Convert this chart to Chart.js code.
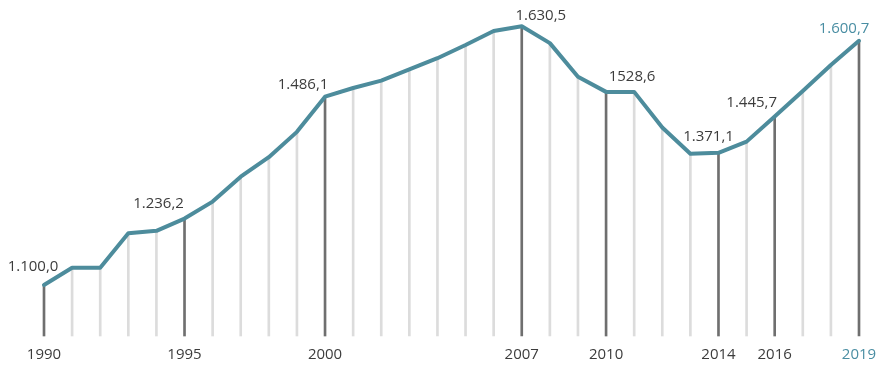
<!DOCTYPE html>
<html>
<head>
<meta charset="utf-8">
<script src="https://cdn.jsdelivr.net/npm/chart.js@4"></script>
<style>
html,body{margin:0;padding:0;background:#fff;}
#wrap{width:876px;height:367px;position:relative;}
</style>
</head>
<body>
<div id="wrap"><canvas id="c" width="876" height="367"></canvas></div>
<script>
// Data
const years = [1990,1991,1992,1993,1994,1995,1996,1997,1998,1999,2000,2001,2002,2003,2004,2005,2006,2007,2008,2009,2010,2011,2012,2013,2014,2015,2016,2017,2018,2019];
const values = [1100.0,1135.5,1135.5,1206,1211,1236.2,1271,1322,1362,1414,1486.1,1504,1519,1542,1565,1592,1621,1630.5,1596,1527,1496,1496,1423,1369,1371.1,1394,1445.7,1498,1551,1600.7];
const tickYears = [1990,1995,2000,2007,2010,2014,2016,2019];
const labelYears = [1990,1995,2000,2007,2010,2014,2016,2019];
const labelTexts = ["1.100,0","1.236,2","1.486,1","1.630,5","1528,6","1.371,1","1.445,7","1.600,7"];

const Y_MIN = 995.4, Y_MAX = 1684.4;

// Styles
const TEAL = '#4d8c9c';
const TEAL_TEXT = '#4a8ea3';
const DARK = '#6f6f6f';
const LIGHT = '#dcdcdc';
const TEXT = '#3c3c3c';
const labelOffsets = [[-11,-18],[-26,-15],[-22,-12],[19,-11],[26,-15],[-10,-16],[-23,-14],[-15,-12]];

const barColors = years.map(y => tickYears.includes(y) ? DARK : LIGHT);

const labelsPlugin = {
  id: 'labelsPlugin',
  afterDatasetsDraw(chart) {
    const ctx = chart.ctx;
    const xs = chart.scales.x, ys = chart.scales.y;
    ctx.save();
    ctx.font = '15px "Open Sans", sans-serif';
    ctx.textAlign = 'center';
    ctx.textBaseline = 'middle';
    tickYears.forEach((y) => {
      const i = years.indexOf(y);
      ctx.fillStyle = (y === 2019) ? TEAL_TEXT : TEXT;
      ctx.fillText(String(y), xs.getPixelForValue(i), 355);
    });
    labelYears.forEach((y, k) => {
      const i = years.indexOf(y);
      const px = xs.getPixelForValue(i);
      const py = ys.getPixelForValue(values[i]);
      ctx.fillStyle = (y === 2019) ? TEAL_TEXT : TEXT;
      ctx.fillText(labelTexts[k], px + labelOffsets[k][0], py + labelOffsets[k][1]);
    });
    ctx.restore();
  }
};

new Chart(document.getElementById('c'), {
  data: {
    labels: years.map(String),
    datasets: [
      {
        type: 'line',
        data: values,
        borderColor: TEAL,
        borderWidth: 4,
        pointRadius: 0,
        tension: 0,
        borderJoinStyle: 'round',
        borderCapStyle: 'round',
        clip: false,
        order: 0
      },
      {
        type: 'bar',
        data: values.map(v => [Y_MIN, v]),
        backgroundColor: barColors,
        barThickness: 2,
        clip: false,
        order: 1
      }
    ]
  },
  options: {
    responsive: false,
    animation: false,
    events: [],
    layout: { padding: { left: 44, right: 17, top: 0, bottom: 31 } },
    plugins: { legend: { display: false }, tooltip: { enabled: false } },
    scales: {
      x: { display: false, offset: false },
      y: { display: false, min: Y_MIN, max: Y_MAX }
    }
  },
  plugins: [labelsPlugin]
});
</script>
</body>
</html>
